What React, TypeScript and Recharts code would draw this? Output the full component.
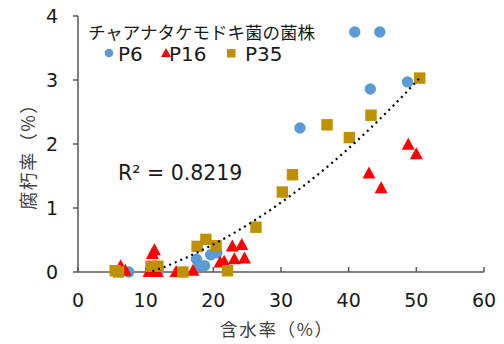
import React from 'react';
import { ComposedChart, Scatter, XAxis, YAxis } from 'recharts';

// 含水率 (%) / 腐朽率 (%) per strain
const p6X = [7.5, 11.9, 17.5, 18.0, 18.7, 19.6, 20.5, 32.8, 40.9, 43.2, 44.6, 48.7];
const p6Y = [0.0, 0.02, 0.2, 0.1, 0.1, 0.27, 0.3, 2.25, 3.75, 2.86, 3.75, 2.97];

const p16X = [6.3, 7.0, 10.5, 11.0, 11.3, 11.7, 14.5, 17.0, 21.0, 21.6, 22.8, 23.1, 24.2, 24.6, 43.0, 44.8, 48.8, 50.0];
const p16Y = [0.09, 0.02, 0.0, 0.28, 0.34, 0.0, 0.0, 0.02, 0.15, 0.16, 0.4, 0.2, 0.42, 0.21, 1.54, 1.31, 1.99, 1.84];

const p35X = [5.5, 6.0, 10.8, 11.8, 15.5, 17.6, 18.9, 20.4, 22.1, 26.3, 30.2, 31.7, 36.8, 40.1, 43.3, 50.5];
const p35Y = [0.02, 0.0, 0.09, 0.09, 0.0, 0.4, 0.51, 0.41, 0.02, 0.7, 1.25, 1.52, 2.3, 2.1, 2.45, 3.03];

const xTicks = [0, 10, 20, 30, 40, 50, 60];
const yTicks = [0, 1, 2, 3, 4];

const toPoints = (xs: number[], ys: number[]) => xs.map((x, i) => ({ x, y: ys[i] }));
const p6 = toPoints(p6X, p6Y);
const p16 = toPoints(p16X, p16Y);
const p35 = toPoints(p35X, p35Y);

// quadratic least-squares trendline over all points (like Excel's polynomial trendline)
function quadFit(pts: { x: number; y: number }[]) {
    let s0 = 0, s1 = 0, s2 = 0, s3 = 0, s4 = 0, t0 = 0, t1 = 0, t2 = 0;
    pts.forEach(({ x, y }) => {
        s0 += 1; s1 += x; s2 += x * x; s3 += x ** 3; s4 += x ** 4;
        t0 += y; t1 += x * y; t2 += x * x * y;
    });
    const m = [
        [s4, s3, s2, t2],
        [s3, s2, s1, t1],
        [s2, s1, s0, t0],
    ];
    for (let i = 0; i < 3; i++) {
        for (let k = i + 1; k < 3; k++) {
            const f = m[k][i] / m[i][i];
            for (let j = i; j < 4; j++) m[k][j] -= f * m[i][j];
        }
    }
    const c = m[2][3] / m[2][2];
    const b = (m[1][3] - m[1][2] * c) / m[1][1];
    const a = (m[0][3] - m[0][2] * c - m[0][1] * b) / m[0][0];
    return (x: number) => a * x * x + b * x + c;
}

const allPts = [...p6, ...p16, ...p35];
const fit = quadFit(allPts);
const xMin = Math.min(...allPts.map((p) => p.x));
const xMax = Math.max(...allPts.map((p) => p.x));
const trend: { x: number; y: number }[] = [];
for (let x = xMin; x <= xMax + 1e-9; x += 0.5) {
    const y = fit(x);
    if (y >= 0) trend.push({ x, y });
}

const FONT = '"DejaVu Sans", "Noto Sans CJK JP", sans-serif';
const JP = '"Noto Sans CJK JP", "DejaVu Sans", sans-serif';
const BLUE = '#5B9BD5';
const RED = '#FF0000';
const GOLD = '#BF9000';
const TEXT = '#1a1a1a';
const AXIS = '#595959';

const Circle = ({ cx, cy }: any) => <circle cx={cx} cy={cy} r={5.7} fill={BLUE} />;
const Tri = ({ cx, cy }: any) => (
    <polygon points={`${cx},${cy - 7} ${cx + 6.5},${cy + 5} ${cx - 6.5},${cy + 5}`} fill={RED} />
);
const Sq = ({ cx, cy }: any) => <rect x={cx - 5.7} y={cy - 5.7} width={11.4} height={11.4} fill={GOLD} />;

const abs = (left: number, top: number, extra: React.CSSProperties = {}): React.CSSProperties => ({
    position: 'absolute',
    left,
    top,
    whiteSpace: 'nowrap',
    ...extra,
});

export default function App() {
    return (
        <div style={{ position: 'absolute', left: 0, top: 0, width: 504, height: 344, fontFamily: FONT, overflow: 'hidden' }}>
            <ComposedChart width={504} height={344} margin={{ top: 16, right: 20, left: 0, bottom: 0 }}>
                <XAxis
                    type="number"
                    dataKey="x"
                    domain={[0, 60]}
                    ticks={xTicks}
                    tickSize={-5}
                    tickMargin={27}
                    height={72}
                    axisLine={{ stroke: AXIS, strokeWidth: 1.5 }}
                    tickLine={{ stroke: AXIS, strokeWidth: 1.5 }}
                    tick={{ fill: TEXT, fontSize: 19, fontFamily: FONT }}
                />
                <YAxis
                    type="number"
                    dataKey="y"
                    domain={[0, 4]}
                    ticks={yTicks}
                    width={78}
                    tickSize={5}
                    tickMargin={15}
                    axisLine={{ stroke: AXIS, strokeWidth: 1.5 }}
                    tickLine={{ stroke: AXIS, strokeWidth: 1.5 }}
                    tick={{ fill: TEXT, fontSize: 19, fontFamily: FONT }}
                />
                <Scatter data={p6} shape={<Circle />} isAnimationActive={false} />
                <Scatter data={p16} shape={<Tri />} isAnimationActive={false} />
                <Scatter data={p35} shape={<Sq />} isAnimationActive={false} />
                <Scatter
                    data={trend}
                    line={{ stroke: '#000', strokeWidth: 2.2, strokeDasharray: '2 4' }}
                    lineType="joint"
                    shape={() => <g />}
                    isAnimationActive={false}
                />
            </ComposedChart>

            {/* legend */}
            <div style={abs(88, 22, { fontFamily: JP, fontSize: 17.5, color: TEXT, lineHeight: '20px' })}>
                チャアナタケモドキ菌の菌株
            </div>
            <svg style={abs(100, 44)} width={140} height={20}>
                <circle cx={9} cy={9} r={4.3} fill={BLUE} />
                <polygon points="66,4 71,13 61,13" fill={RED} />
                <rect x={127} y={5} width={8.5} height={8.5} fill={GOLD} />
            </svg>
            <div style={abs(118, 44, { fontSize: 20, color: TEXT, lineHeight: '20px' })}>P6</div>
            <div style={abs(169, 44, { fontSize: 20, color: TEXT, lineHeight: '20px' })}>P16</div>
            <div style={abs(245, 44, { fontSize: 20, color: TEXT, lineHeight: '20px' })}>P35</div>

            {/* R squared */}
            <div style={abs(118, 161, { fontSize: 20.5, color: TEXT, lineHeight: '24px' })}>R² = 0.8219</div>

            {/* axis titles */}
            <div style={abs(220, 320, { fontFamily: JP, fontSize: 17.5, letterSpacing: 1.7, color: '#404040', lineHeight: '18px' })}>
                含水率（%）
            </div>
            <div
                style={abs(27 - 60, 152 - 11, {
                    width: 120,
                    textAlign: 'center',
                    fontFamily: JP,
                    fontSize: 18,
                    letterSpacing: 1.5,
                    color: '#404040',
                    lineHeight: '22px',
                    transform: 'rotate(-90deg)',
                })}
            >
                腐朽率（%）
            </div>
        </div>
    );
}
